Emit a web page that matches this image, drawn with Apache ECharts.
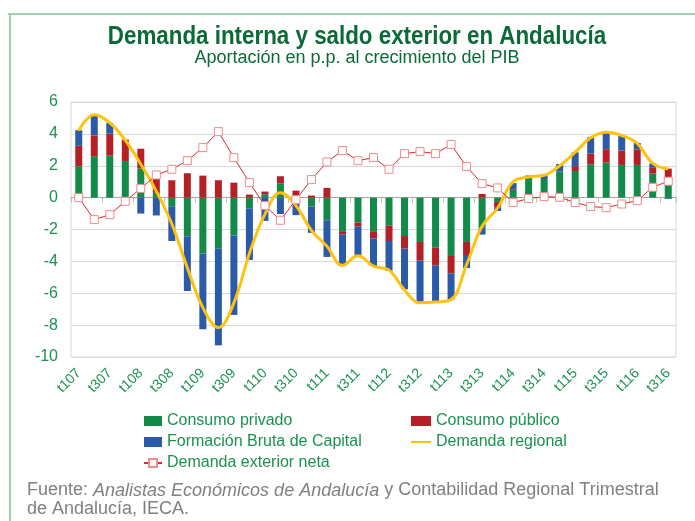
<!DOCTYPE html>
<html>
<head>
<meta charset="utf-8">
<script src="https://cdn.jsdelivr.net/npm/echarts@6/dist/echarts.min.js"></script>
<style>
    html, body { margin: 0; padding: 0; background: #fff; }
    #echarts { width: 695px; height: 521px; }
</style>
</head>
<body>
<div id="echarts"></div>
<script>
// trimestres t107 .. t316
var categories = [
    't107', 't207', 't307', 't407', 't108', 't208', 't308', 't408',
    't109', 't209', 't309', 't409', 't110', 't210', 't310', 't410',
    't111', 't211', 't311', 't411', 't112', 't212', 't312', 't412',
    't113', 't213', 't313', 't413', 't114', 't214', 't314', 't414',
    't115', 't215', 't315', 't415', 't116', 't216', 't316'
];

var consumoPrivado = [
    1.97, 2.60, 2.63, 2.30, 1.82, 0.30, -0.54, -2.43,
    -3.51, -3.18, -2.38, -0.67, 0.21, 0.90, -0.10, -0.56,
    -1.42, -2.15, -1.57, -2.15, -1.76, -2.41, -2.78, -3.14,
    -3.66, -2.78, -1.88, -0.27, 0.48, 1.26, 1.17, 1.63,
    1.67, 2.09, 2.20, 2.05, 2.05, 1.51, 1.26
];

var consumoPublico = [
    1.28, 1.30, 1.38, 1.34, 1.25, 0.90, 1.09, 1.53,
    1.38, 1.09, 0.94, 0.19, 0.17, 0.44, 0.44, 0.13,
    0.61, -0.15, -0.23, -0.42, -0.96, -0.79, -1.17, -1.11,
    -1.09, -0.82, 0.23, -0.36, 0.05, 0.00, 0.00, 0.00,
    0.31, 0.67, 0.84, 0.90, 0.98, 0.36, 0.56
];

var formacionBruta = [
    0.98, 1.25, 0.67, 0.00, -1.00, -1.12, -2.18, -3.43,
    -4.75, -6.09, -4.98, -3.24, -1.46, -1.03, -1.00, -1.65,
    -2.30, -1.99, -1.86, -1.72, -1.88, -2.55, -2.62, -2.24,
    -1.63, -0.82, -0.44, -0.21, 0.38, 0.13, 0.25, 0.48,
    0.86, 1.03, 1.07, 0.94, 0.40, 0.27, -0.08
];

var demandaRegional = [
    4.2, 5.2, 4.7, 3.6, 2.1, 0.4, -1.65, -4.4,
    -6.9, -8.15, -6.6, -3.5, -1.05, 0.3, -0.5, -2.05,
    -3.05, -4.25, -3.65, -4.3, -4.55, -5.8, -6.6, -6.55,
    -6.4, -4.2, -1.8, -0.65, 1.0, 1.3, 1.4, 2.0,
    2.85, 3.75, 4.1, 3.9, 3.4, 2.15, 1.8
];

var demandaExterior = [
    0.0, -1.38, -1.07, -0.23, 0.58, 1.42, 1.78, 2.32,
    3.14, 4.14, 2.51, 0.94, -0.50, -1.42, -0.13, 1.13,
    2.24, 2.95, 2.32, 2.51, 1.78, 2.76, 2.89, 2.76,
    3.33, 1.95, 0.88, 0.61, -0.31, -0.06, 0.06, 0.02,
    -0.31, -0.56, -0.63, -0.40, -0.19, 0.65, 1.03
];

var yTicks = { min: -10, max: 6, interval: 2 };

var verde = '#1b9150';
var fuente = '"Liberation Sans", Arial, sans-serif';

var myChart = echarts.init(document.getElementById('echarts'));

function barra(nombre, datos, color) {
    return {
        name: nombre,
        type: 'bar',
        stack: 'total',
        barWidth: 7,
        itemStyle: { color: color },
        data: datos
    };
}

var option = {
    backgroundColor: '#fff',
    animation: false,
    textStyle: { fontFamily: fuente },
    graphic: [
        // marco exterior
        { type: 'line', shape: { x1: 8, y1: 14, x2: 695, y2: 14 }, style: { stroke: '#9fd3ae', lineWidth: 2 } },
        { type: 'line', shape: { x1: 10, y1: 14, x2: 10, y2: 521 }, style: { stroke: '#9fd3ae', lineWidth: 2 } },
        { // titulo
            type: 'text', x: 357, y: 37, scaleX: 0.86,
            style: {
                text: 'Demanda interna y saldo exterior en Andalucía',
                font: 'bold 26px ' + fuente,
                fill: '#0b6b37', textAlign: 'center', textVerticalAlign: 'middle'
            }
        },
        { // subtitulo
            type: 'text', x: 357, y: 58,
            style: {
                text: 'Aportación en p.p. al crecimiento del PIB',
                font: '18px ' + fuente,
                fill: '#0b6b37', textAlign: 'center', textVerticalAlign: 'middle'
            }
        },
        { // fuente
            type: 'text', x: 27, y: 481,
            style: {
                text: '{n|Fuente: }{i|Analistas Económicos de Andalucía}{n| y Contabilidad Regional Trimestral}\n{n|de Andalucía, IECA.}',
                rich: {
                    n: { fontSize: 18, fontFamily: fuente, fill: '#808080', lineHeight: 19 },
                    i: { fontSize: 18, fontFamily: fuente, fontStyle: 'italic', fill: '#808080', lineHeight: 19 }
                }
            }
        }
    ],
    legend: [
        {
            orient: 'vertical', left: 143, top: 413, padding: 0,
            itemWidth: 18, itemHeight: 10, itemGap: 5,
            textStyle: { color: verde, fontSize: 16, lineHeight: 16 },
            data: [
                { name: 'Consumo privado', icon: 'rect' },
                { name: 'Formación Bruta de Capital', icon: 'rect' },
                { name: 'Demanda exterior neta' }
            ]
        },
        {
            orient: 'vertical', left: 410, top: 413, padding: 0,
            itemWidth: 20, itemHeight: 10, itemGap: 5,
            textStyle: { color: verde, fontSize: 16, lineHeight: 16 },
            data: [
                { name: 'Consumo público', icon: 'rect' },
                { name: 'Demanda regional', itemStyle: { color: 'transparent', borderColor: 'transparent', opacity: 0 } }
            ]
        }
    ],
    grid: {
        show: true,
        left: 71, right: 19, top: 102, bottom: 164,
        borderColor: '#d9d9d9', borderWidth: 1,
        containLabel: false
    },
    xAxis: [
        { // etiquetas abajo
            type: 'category',
            data: categories,
            position: 'bottom',
            axisLine: { show: false, onZero: false },
            axisTick: { show: false },
            axisLabel: {
                interval: 1,
                rotate: 45,
                margin: 14,
                color: verde,
                fontSize: 14
            }
        },
        { // linea del cero
            type: 'category',
            data: categories,
            position: 'top',
            axisLine: { show: true, onZero: true, lineStyle: { color: '#a6a6a6', width: 1 } },
            axisTick: { show: true, inside: true, length: 5, lineStyle: { color: '#bfbfbf' } },
            axisLabel: { show: false }
        }
    ],
    yAxis: {
        type: 'value',
        min: yTicks.min,
        max: yTicks.max,
        interval: yTicks.interval,
        axisLine: { show: false },
        axisTick: { show: false },
        axisLabel: { color: verde, fontSize: 16, margin: 13 },
        splitLine: { lineStyle: { color: '#d9d9d9' } }
    },
    series: [
        barra('Consumo privado', consumoPrivado, '#13894a'),
        barra('Consumo público', consumoPublico, '#b51f26'),
        barra('Formación Bruta de Capital', formacionBruta, '#2a5aa8'),
        {
            name: 'Demanda regional',
            type: 'line',
            smooth: 0.4,
            symbol: 'none',
            z: 3,
            lineStyle: { color: '#ffc20e', width: 3 },
            itemStyle: { color: '#ffc20e' },
            data: demandaRegional
        },
        {
            name: 'Demanda exterior neta',
            type: 'line',
            symbol: 'rect',
            symbolSize: 8,
            z: 4,
            lineStyle: { color: '#e0262f', width: 1 },
            itemStyle: { color: '#fff', borderColor: '#f08b8b', borderWidth: 1 },
            data: demandaExterior
        }
    ]
};

myChart.setOption(option);
</script>
</body>
</html>
